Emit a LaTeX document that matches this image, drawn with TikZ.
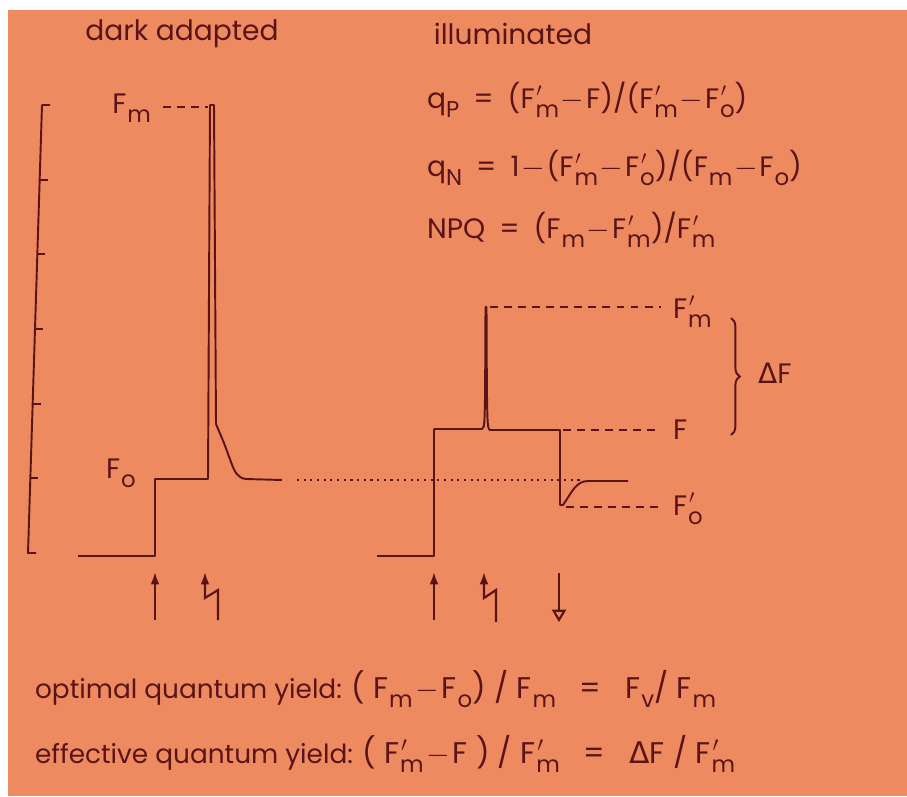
\documentclass[tikz,border=0pt]{standalone}
\usepackage{amsmath}
\usepackage{fontspec}
\setmainfont{Poppins}
\newfontfamily\deltafont{DejaVu Sans}
\usetikzlibrary{arrows.meta, decorations.pathreplacing}

\definecolor{paper}{RGB}{238,138,96}
\definecolor{ink}{RGB}{90,20,24}

\newcommand{\sbx}[1]{\raisebox{-0.6ex}{\fontsize{13}{15}\selectfont #1}}
\newcommand{\Fsb}[1]{F\kern0.5pt\sbx{#1}}
\newcommand{\Fpr}[1]{F\rlap{\kern1pt$^{\prime}$}\kern0.5pt\sbx{#1}}
\newcommand{\dF}{{\deltafont Δ}F}
\newcommand{\mn}{\kern1pt$-$\kern1pt}
\newcommand{\spaced}[1]{{\fontsize{17}{20}\selectfont\addfontfeature{LetterSpace=28}\def\mn{\kern1.5pt$-$\kern1.5pt}#1}}
\newcommand{\eqgap}{\hspace{0.8em}=\hspace{0.8em}}

\begin{document}
\begin{tikzpicture}[x=0.02cm, y=-0.02cm,
    trace/.style={ink, line width=1.1pt, line join=round},
    guide/.style={ink, line width=1pt, dash pattern=on 4.5pt off 3.5pt},
    dotline/.style={ink, line width=1.1pt, dash pattern=on 1.2pt off 2.6pt},
    lbl/.style={text=ink, inner sep=1pt, font=\fontsize{16}{19}\selectfont},
    eqn/.style={lbl, anchor=base west},
    yield/.style={eqn, font=\fontsize{15}{18}\selectfont},
    pulse/.style={ink, line width=1.2pt}]
    \useasboundingbox (0,0) rectangle (907,796);
    \fill[white] (0,0) rectangle (907,796);
    \fill[paper] (8,10) rectangle (907,796);

    \node[lbl, anchor=base] (dark) at (182,40) {dark adapted};
    \node[lbl, anchor=base] (illum) at (513,44) {illuminated};

    \node[eqn] (qp) at (425,108) {q\sbx{P}\enspace=\enspace(\Fpr{m}\mn F)/(\Fpr{m}\mn\Fpr{o})};
    \node[eqn] (qn) at (425,176) {q\sbx{N}\enspace=\enspace1\mn(\Fpr{m}\mn\Fpr{o})/(\Fsb{m}\mn\Fsb{o})};
    \node[eqn] (npq) at (425,238) {NPQ\enspace=\enspace(\Fsb{m}\mn\Fpr{m})/\Fpr{m}};

    \draw[trace] (50,105) -- (42,105) -- (28,553) -- (36,553);
    \foreach \t in {1,...,5}
        \draw[trace] ({42-14*\t/6},{105+448*\t/6}) -- +(8,0);

    \draw[trace] (78,556) -- (155,556) -- (155,479) -- (208,479) -- (210,105) -- (214,105)
        -- (216,424) -- (224,443) -- (231,462) .. controls (235,473) and (238,478) .. (246,479) -- (282,480);
    \coordinate (fmtop) at (208,107);
    \node[lbl, anchor=base east] (fm) at (153,113) {\Fsb{m}};
    \draw[guide] (fm.east |- fmtop) ++(10,0) -- (fmtop);
    \node[lbl, anchor=base west] (fo) at (104,478) {\Fsb{o}};

    \draw[dotline] (297,480) -- (583,480);

    \draw[trace] (377,556) -- (434,556) -- (434,429) -- (482,429) .. controls (485,428) .. (485.5,307)
        -- (486.5,307) .. controls (487,428) .. (490,430) -- (560,430) -- (560,505) -- (563,505)
        .. controls (572,492) and (576,481) .. (588,481) -- (628,481);
    \coordinate (fmp) at (490,307);
    \coordinate (fss) at (563,430);
    \coordinate (fop) at (566,507);
    \node[lbl, anchor=base west] (lfmp) at (671,318) {\Fpr{m}};
    \node[lbl, anchor=base west] (lfss) at (671,439) {F};
    \node[lbl, anchor=base west] (lfop) at (671,515) {\Fpr{o}};
    \draw[guide, shorten >=0.2cm] (fmp) -- (lfmp.west |- fmp);
    \draw[guide, shorten >=0.2cm] (fss) -- (lfss.west |- fss);
    \draw[guide, shorten >=0.2cm] (fop) -- (lfop.west |- fop);

    \coordinate (btop) at (731,318);
    \coordinate (bbot) at (731,435);
    \draw[ink, line width=1.1pt, decorate, decoration={brace, amplitude=5pt}] (btop) -- (bbot);
    \node[lbl, anchor=base west] (df) at (756,383) {\dF};

    \draw[pulse, -{Latex[length=7pt, width=5pt]}] (155,620) -- (155,572);
    \draw[pulse, -{Latex[length=7pt, width=5pt]}] (218,620) -- (218,590) -- (205,598) -- (205,572);
    \draw[pulse, -{Latex[length=7pt, width=5pt]}] (434,620) -- (434,572);
    \draw[pulse, -{Latex[length=7pt, width=5pt]}] (496,622) -- (496,590) -- (484,598) -- (484,572);
    \draw[pulse, -{Triangle[open, length=7pt, width=8pt]}] (559,573) -- (559,622);

    \node[yield] (opt) at (33,698) {optimal quantum yield: \spaced{(\Fsb{m}\mn\Fsb{o})/\Fsb{m}\eqgap\Fsb{v}/\Fsb{m}}};
    \node[yield] (eff) at (33,763) {effective quantum yield: \spaced{(\Fpr{m}\mn F)/\Fpr{m}\eqgap\dF/\Fpr{m}}};
\end{tikzpicture}
\end{document}
